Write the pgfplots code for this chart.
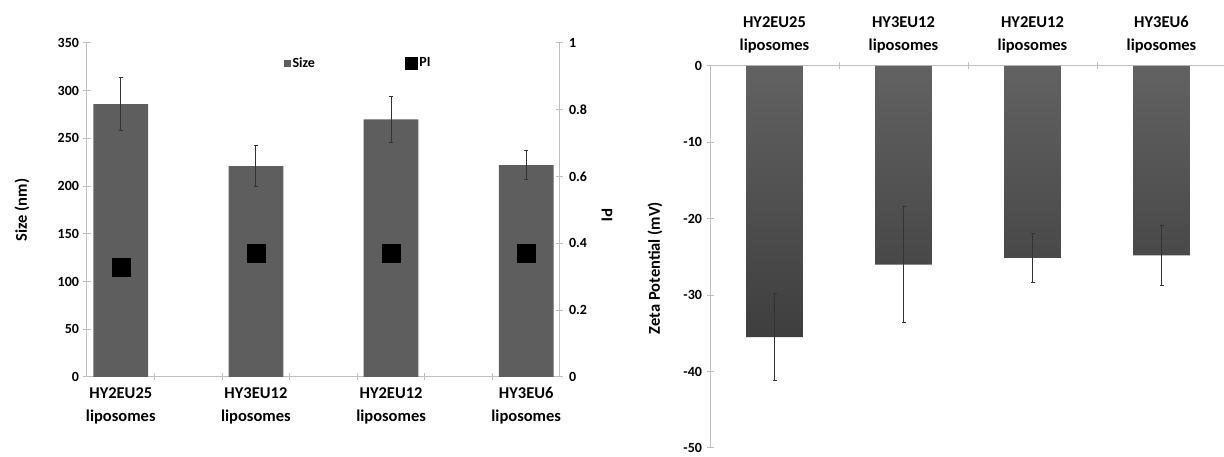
\documentclass[border=0pt]{standalone}
\usepackage{pgfplots}
\pgfplotsset{compat=1.18}
\usepackage{fontspec}
\setmainfont{Carlito}
\definecolor{barg}{HTML}{5E5E5E}
\definecolor{bartop}{HTML}{626262}
\definecolor{barbot}{HTML}{3E3E3E}
\definecolor{axg}{HTML}{BFBFBF}
\definecolor{errg}{HTML}{333333}
\newcommand{\tickf}{\fontsize{14}{16}\selectfont\bfseries}
\newcommand{\catf}{\fontsize{16.5}{23}\selectfont\bfseries}
\newcommand{\labf}{\fontsize{16.5}{20}\selectfont\bfseries}
\begin{document}
\begin{tikzpicture}[x=1pt,y=1pt]
\useasboundingbox (0,0) rectangle (1224,457);
\pgfplotsset{
  common/.style={
    scale only axis,
    axis line style={axg, line width=1pt},
    tick style={axg, line width=1pt},
    major tick length=7pt,
    tick align=center,
    ticklabel style={font=\tickf, text=black},
    clip=false,
  }
}
% ---------------- left chart: size ----------------
\begin{axis}[common,
  at={(87pt,80pt)}, anchor=south west,
  width=473pt, height=334pt,
  xmin=-0.5, xmax=6.5, ymin=0, ymax=350,
  axis x line*=bottom, axis y line*=left,
  ytick={0,50,100,150,200,250,300,350},
  yticklabels={0,50,100,150,200,250,300,350},
  yticklabel style={xshift=-1pt},
  xtick={0.5,1.5,2.5,3.5,4.5,5.5},
  xticklabels={},
  extra x ticks={0,2,4,6},
  extra x tick labels={{HY2EU25\\liposomes},{HY3EU12\\liposomes},{HY2EU12\\liposomes},{HY3EU6\\liposomes}},
  extra x tick style={major tick length=0pt, xticklabel style={font=\catf, align=center, yshift=-7pt}},
]
\addplot[ybar, bar width=0.81, fill=barg, draw=none,
  error bars/.cd, y dir=both, y explicit,
  error bar style={errg, line width=1pt},
  error mark options={rotate=90, errg, mark size=2pt, line width=1pt}]
  coordinates {(0,286) +- (0,28) (2,221) +- (0,21.5) (4,270) +- (0,24) (6,222) +- (0,15)};
\end{axis}
% ---------------- left chart: PI ----------------
\begin{axis}[common,
  at={(87pt,80pt)}, anchor=south west,
  width=473pt, height=334pt,
  xmin=-0.5, xmax=6.5, ymin=0, ymax=1,
  axis x line=none, axis y line*=right,
  ytick={0,0.2,0.4,0.6,0.8,1},
  yticklabels={0,0.2,0.4,0.6,0.8,1},
  yticklabel style={xshift=2pt},
  legend style={at={(rel axis cs:0.41,0.94)}, anchor=west, draw=none, fill=none,
    font=\tickf, legend columns=2,
    /tikz/every even column/.append style={column sep=88pt}},
]
\addlegendimage{legend image code/.code={\fill[barg] (0pt,-3pt) rectangle (6pt,3pt);}}
\addlegendentry{Size}
\addplot[only marks, mark=square*, mark size=9pt, mark options={fill=black, draw=black},
  legend image code/.code={\fill[black] (0pt,-6pt) rectangle (12pt,6pt);}]
  coordinates {(0,0.33) (2,0.37) (4,0.37) (6,0.372)};
\addlegendentry{PI}
\end{axis}
\node[rotate=90, font=\labf] at (22,247) {Size (nm)};
\node[rotate=-90, font=\labf] at (607,242) {PI};
% ---------------- right chart: zeta ----------------
\begin{axis}[common,
  at={(710pt,9pt)}, anchor=south west,
  width=516pt, height=382pt,
  xmin=-0.5, xmax=3.5, ymin=-50, ymax=0,
  axis x line*=top, axis y line*=left,
  ytick={-50,-40,-30,-20,-10,0},
  yticklabels={-50,-40,-30,-20,-10,0},
  yticklabel style={xshift=-1pt},
  xtick={0.5,1.5,2.5},
  xticklabels={},
  extra x ticks={0,1,2,3},
  extra x tick labels={{HY2EU25\\liposomes},{HY3EU12\\liposomes},{HY2EU12\\liposomes},{HY3EU6\\liposomes}},
  extra x tick style={major tick length=0pt, xticklabel style={font=\catf, align=center, yshift=9pt}},
]
\addplot[ybar, bar width=0.44, draw=none, top color=bartop, bottom color=barbot,
  error bars/.cd, y dir=both, y explicit,
  error bar style={errg, line width=1pt},
  error mark options={rotate=90, errg, mark size=2pt, line width=1pt}]
  coordinates {(0,-35.5) +- (0,5.7) (1,-26) +- (0,7.6) (2,-25.1) +- (0,3.2) (3,-24.8) +- (0,3.9)};
\end{axis}
\node[rotate=90, font=\labf] at (655,189) {Zeta Potential (mV)};
\end{tikzpicture}
\end{document}
